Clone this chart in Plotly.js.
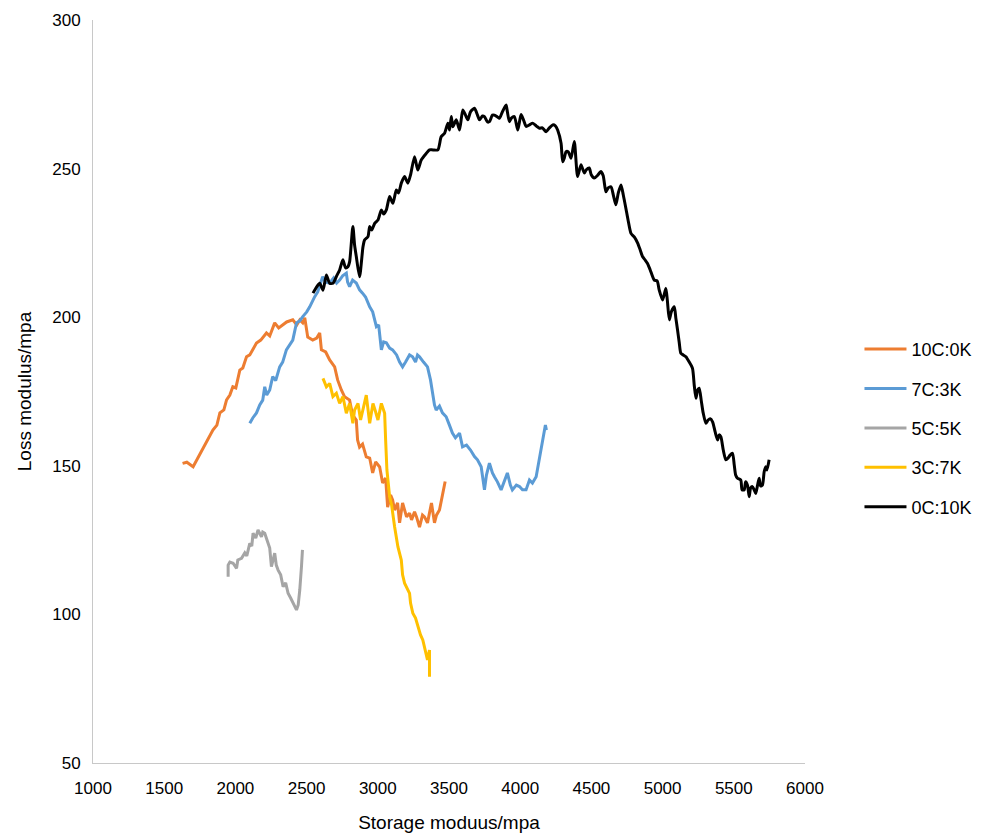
<!DOCTYPE html>
<html>
<head>
<meta charset="utf-8">
<script src="https://cdn.plot.ly/plotly-3.0.1.min.js"></script>
<style>html,body{margin:0;padding:0;background:#fff;}#chart{width:988px;height:835px;}</style>
</head>
<body>
<div id="chart"></div>
<script>
const seriesNames = ["10C:0K", "7C:3K", "5C:5K", "3C:7K", "0C:10K"];
const seriesColors = ["#ED7D31", "#5B9BD5", "#A5A5A5", "#FFC000", "#000000"];

const x10C0K = [1629,1659,1703,1729,1771,1806,1842,1870,1891,1919,1938,1961,1982,2003,2031,2052,2078,2101,2148,2178,2218,2241,2276,2304,2332,2360,2403,2431,2452,2473,2487,2508,2543,2571,2592,2604,2634,2662,2697,2718,2744,2767,2802,2823,2849,2858,2872,2893,2919,2943,2964,2985,3013,3034,3055,3069,3090,3104,3118,3139,3153,3174,3202,3223,3237,3258,3272,3293,3314,3328,3349,3377,3398,3412,3433,3454,3473];
const y10C0K = [150.8,151.2,149.7,152,155.3,158.3,162,163.7,167.8,168.8,172.2,173.8,176.6,176.2,182.2,182.9,186.7,187.3,191.3,192.3,194.7,193.7,198.1,196.4,197.4,198.4,199.1,197.4,199.1,198.1,199.8,193.3,192.3,193,194.7,189,188.3,185.6,183.3,178.9,175.5,173.2,172.1,167.1,165.4,158.7,156.3,157.3,153,152.6,147.6,151.3,149.6,144.2,145.9,136.1,140.2,138.5,135.1,137.5,130.8,137.5,132.8,134.1,131.8,134.5,132.8,129.4,133.4,132.8,130.8,137.5,130.8,133.4,135.1,140.8,144.7];

const x7C3K = [2101,2122,2148,2171,2192,2206,2220,2241,2262,2283,2311,2332,2358,2382,2403,2429,2452,2473,2501,2522,2543,2557,2578,2592,2613,2634,2662,2690,2711,2732,2753,2779,2788,2802,2823,2849,2872,2893,2914,2943,2964,2990,3006,3025,3041,3060,3083,3104,3132,3153,3174,3195,3223,3244,3265,3279,3293,3321,3349,3370,3384,3398,3410,3433,3454,3480,3503,3524,3545,3574,3595,3623,3651,3679,3700,3726,3749,3763,3784,3805,3819,3840,3866,3889,3910,3931,3945,3973,3995,4016,4041,4065,4086,4112,4121,4135,4156,4177,4184];
const y7C3K = [164.3,166.1,167.8,170.5,172.1,176.6,173.8,175.5,180,178.7,183.3,184.9,189,190.6,192.3,198.1,198.8,200.2,201.8,203.5,205.8,206.9,208.5,210.3,213.6,211.8,211.5,213.2,211.5,212.5,213.9,214.8,211.8,210.3,212.5,211.5,209.2,208.1,206.8,203.5,201.8,196.8,197.4,189,191.7,191.4,189.6,189,187.3,184.9,183.3,184.9,187.3,186.7,184.9,187.3,186.7,184.9,183.3,178.9,174.5,170.5,168.8,170.1,167.8,166.5,163.7,161,159.4,161,156.4,157,155.3,153.1,152,149.7,141.9,146.9,150.9,147.6,146.3,144.6,141.9,145.2,147.6,143.5,141.9,143.5,143,141.9,141.9,145.2,144.2,146.3,148.6,152,157.7,163.7,162];

const x5C5K = [1949,1949,1961,1984,2008,2017,2043,2066,2080,2101,2115,2124,2143,2159,2183,2192,2206,2229,2241,2253,2262,2276,2287,2300,2318,2335,2353,2370,2388,2405,2429,2441,2452,2464,2471];
const y5C5K = [112.7,116.6,117.6,117.2,115.5,118.3,118.9,120.7,119.7,123.9,123,127.3,125.7,128.4,126.1,127.7,127.3,123.9,122.3,116.1,118.3,120.6,116.6,114.9,113.3,109.3,110.6,107.1,105.5,103.7,101.5,103.2,108.2,116.1,121.7];

const x3C7K = [2615,2639,2662,2685,2709,2732,2755,2779,2802,2825,2837,2861,2879,2896,2919,2943,2966,2985,3001,3025,3048,3055,3064,3083,3097,3118,3141,3165,3174,3188,3223,3230,3246,3265,3281,3300,3316,3340,3349,3363,3363];
const y3C7K = [179.4,176.6,177.7,173.3,174.4,171,173.3,167.7,171,164.3,168.8,171,165.4,168.8,173.8,164.3,171,168.1,165.4,171,167.7,158.7,148.6,139.6,136.8,129.5,122.8,118.3,113.3,110.5,107.1,103.8,100.4,98.8,95.9,93.1,91.4,86.9,84.7,88,79];

const x0C10K = [2545,2571,2592,2615,2639,2662,2685,2711,2732,2755,2774,2790,2802,2825,2837,2849,2872,2896,2907,2931,2943,2957,2978,3001,3025,3041,3060,3083,3106,3130,3146,3165,3188,3211,3230,3258,3281,3305,3340,3363,3387,3422,3445,3469,3492,3504,3516,3527,3551,3574,3597,3616,3632,3651,3679,3700,3714,3735,3749,3770,3784,3805,3819,3840,3854,3875,3901,3910,3924,3938,3959,3983,4006,4023,4042,4065,4088,4114,4135,4156,4182,4205,4228,4247,4263,4287,4298,4310,4322,4338,4357,4380,4403,4427,4450,4464,4485,4499,4520,4541,4567,4583,4602,4618,4638,4654,4672,4689,4708,4724,4743,4759,4778,4801,4824,4843,4859,4878,4894,4913,4941,4962,4976,5000,5023,5033,5047,5061,5082,5093,5105,5117,5128,5145,5164,5187,5210,5222,5234,5246,5257,5271,5285,5304,5320,5334,5351,5369,5386,5397,5409,5426,5444,5460,5474,5491,5503,5513,5526,5549,5558,5573,5583,5596,5608,5618,5631,5643,5654,5667,5678,5688,5701,5713,5724,5733,5748];
const y0C10K = [208.1,210.2,211.4,209.1,214.2,211.4,211.4,213.9,215.9,219.3,216.6,217,218.6,230.5,224.3,220.4,213.6,223.7,226,227.1,230.5,229.3,231.6,232.7,236.1,234.7,236.1,240.6,238.3,242.8,241.8,245.1,247.3,245.1,247.9,254,249.5,252.9,255.1,256.3,256.3,256.3,260.7,261.9,265.3,263,267.5,264.1,266.4,263,269.7,268,266.4,269.1,270.3,268,266.4,267.7,267.5,265.7,265.8,268,268,267.4,266.9,269.1,271.4,269.1,265.8,267,267.5,263,268.2,266.4,264.2,264.7,265.3,264.3,263.6,263.7,262.4,263.7,264.7,264.4,263,258.5,252.3,253.6,255.7,255.6,253.5,259.1,247.3,251.3,248.5,249.6,250.2,247.9,246.8,247.6,249,247.6,242.2,243.5,243.9,241.1,237.8,241.8,244.5,241.1,236.4,232.3,228.2,227,225,222.6,220.4,219.2,218.1,215.9,212.5,212.2,209.2,205.8,209.7,205.8,199.1,201.8,203.5,199.7,195.7,191.4,187.9,187.3,186.7,184.9,182.8,177.2,172.7,175.5,176.1,172.1,167.8,164.3,165.4,165.8,164.8,161.4,158.7,160.4,159.8,155.3,152,152.6,153.6,154.2,150.3,146.9,145.8,145.2,141.9,141.9,144.6,143.5,139.6,142.5,143,141.9,140.7,143.5,145.8,143.2,143.5,147.9,149.7,148.6,152];

const xTicks = [1000,1500,2000,2500,3000,3500,4000,4500,5000,5500,6000];
const yTicks = [50,100,150,200,250,300];

const xs = [x10C0K, x7C3K, x5C5K, x3C7K, x0C10K];
const ys = [y10C0K, y7C3K, y5C5K, y3C7K, y0C10K];

const traces = seriesNames.map((n, i) => ({
  type: 'scatter', mode: 'lines', name: n,
  x: xs[i], y: ys[i],
  legendgroup: 'g' + i,
  line: {color: seriesColors[i], width: 3, shape: i === 4 ? 'spline' : 'linear', smoothing: 0.6}
}));

const font = {family: '"Liberation Sans", Arial, sans-serif', color: '#000'};

const layout = {
  width: 988, height: 835,
  margin: {l: 93, r: 182, t: 20, b: 72},
  paper_bgcolor: '#fff', plot_bgcolor: '#fff',
  font: Object.assign({size: 17}, font),
  showlegend: true,
  legend: {
    x: 1.075, xanchor: 'left', y: 0.451, yanchor: 'middle',
    font: Object.assign({size: 18}, font),
    traceorder: 'grouped', tracegroupgap: 13, itemwidth: 42,
    bgcolor: 'rgba(0,0,0,0)'
  },
  xaxis: {
    range: [1000, 6000], tickvals: xTicks, ticktext: xTicks.map(String),
    showgrid: false, zeroline: false, showline: true, linecolor: '#c8c8c8', linewidth: 1,
    ticks: '', ticklabelstandoff: 10,
    tickfont: Object.assign({size: 17}, font),
    title: {text: 'Storage moduus/mpa', font: Object.assign({size: 19}, font), standoff: 18}
  },
  yaxis: {
    range: [50, 300], tickvals: yTicks, ticktext: yTicks.map(String),
    showgrid: false, zeroline: false, showline: true, linecolor: '#c8c8c8', linewidth: 1,
    ticks: '', ticklabelstandoff: 8,
    tickfont: Object.assign({size: 17}, font),
    title: {text: 'Loss modulus/mpa', font: Object.assign({size: 19}, font), standoff: 15}
  }
};

Plotly.newPlot('chart', traces, layout, {displayModeBar: false, staticPlot: true});
</script>
</body>
</html>
